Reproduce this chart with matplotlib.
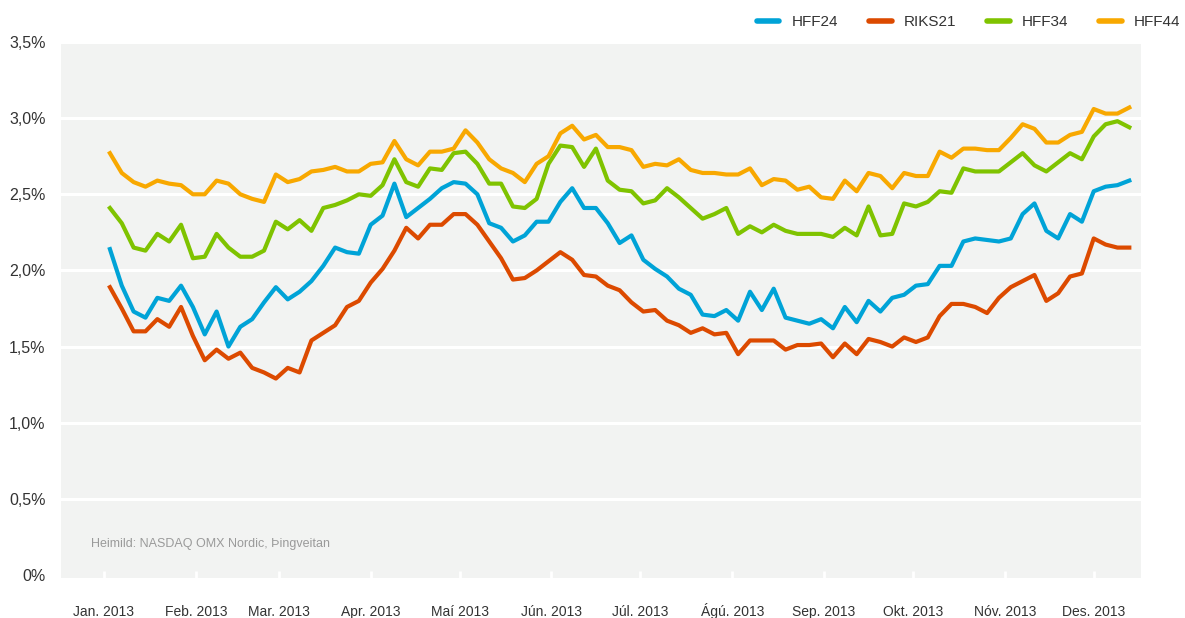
import matplotlib
matplotlib.use("Agg")
import matplotlib.pyplot as plt
import pandas as pd

# values, one every 4 days from 3 Jan 2013
dates = pd.date_range("2013-01-03", periods=87, freq="4D")

hff24 = [2.14, 1.90, 1.73, 1.69, 1.82, 1.80, 1.90, 1.76, 1.58, 1.73,
         1.50, 1.63, 1.68, 1.79, 1.89, 1.81, 1.86, 1.93, 2.03, 2.15,
         2.12, 2.11, 2.30, 2.36, 2.57, 2.35, 2.41, 2.47, 2.54, 2.58,
         2.57, 2.50, 2.31, 2.28, 2.19, 2.23, 2.32, 2.32, 2.45, 2.54,
         2.41, 2.41, 2.31, 2.18, 2.23, 2.07, 2.01, 1.96, 1.88, 1.84,
         1.71, 1.70, 1.74, 1.67, 1.86, 1.74, 1.88, 1.69, 1.67, 1.65,
         1.68, 1.62, 1.76, 1.66, 1.80, 1.73, 1.82, 1.84, 1.90, 1.91,
         2.03, 2.03, 2.19, 2.21, 2.20, 2.19, 2.21, 2.37, 2.44, 2.26,
         2.21, 2.37, 2.32, 2.52, 2.55, 2.56, 2.59]

riks21 = [1.89, 1.75, 1.60, 1.60, 1.68, 1.63, 1.76, 1.57, 1.41, 1.48,
          1.42, 1.46, 1.36, 1.33, 1.29, 1.36, 1.33, 1.54, 1.59, 1.64,
          1.76, 1.80, 1.92, 2.01, 2.13, 2.28, 2.21, 2.30, 2.30, 2.37,
          2.37, 2.30, 2.19, 2.08, 1.94, 1.95, 2.00, 2.06, 2.12, 2.07,
          1.97, 1.96, 1.90, 1.87, 1.79, 1.73, 1.74, 1.67, 1.64, 1.59,
          1.62, 1.58, 1.59, 1.45, 1.54, 1.54, 1.54, 1.48, 1.51, 1.51,
          1.52, 1.43, 1.52, 1.45, 1.55, 1.53, 1.50, 1.56, 1.53, 1.56,
          1.70, 1.78, 1.78, 1.76, 1.72, 1.82, 1.89, 1.93, 1.97, 1.80,
          1.85, 1.96, 1.98, 2.21, 2.17, 2.15, 2.15]

hff34 = [2.41, 2.31, 2.15, 2.13, 2.24, 2.19, 2.30, 2.08, 2.09, 2.24,
         2.15, 2.09, 2.09, 2.13, 2.32, 2.27, 2.33, 2.26, 2.41, 2.43,
         2.46, 2.50, 2.49, 2.56, 2.73, 2.58, 2.55, 2.67, 2.66, 2.77,
         2.78, 2.70, 2.57, 2.57, 2.42, 2.41, 2.47, 2.70, 2.82, 2.81,
         2.68, 2.80, 2.59, 2.53, 2.52, 2.44, 2.46, 2.54, 2.48, 2.41,
         2.34, 2.37, 2.41, 2.24, 2.29, 2.25, 2.30, 2.26, 2.24, 2.24,
         2.24, 2.22, 2.28, 2.23, 2.42, 2.23, 2.24, 2.44, 2.42, 2.45,
         2.52, 2.51, 2.67, 2.65, 2.65, 2.65, 2.71, 2.77, 2.69, 2.65,
         2.71, 2.77, 2.73, 2.88, 2.96, 2.98, 2.94]

hff44 = [2.77, 2.64, 2.58, 2.55, 2.59, 2.57, 2.56, 2.50, 2.50, 2.59,
         2.57, 2.50, 2.47, 2.45, 2.63, 2.58, 2.60, 2.65, 2.66, 2.68,
         2.65, 2.65, 2.70, 2.71, 2.85, 2.73, 2.69, 2.78, 2.78, 2.80,
         2.92, 2.84, 2.73, 2.67, 2.64, 2.58, 2.70, 2.75, 2.90, 2.95,
         2.86, 2.89, 2.81, 2.81, 2.79, 2.68, 2.70, 2.69, 2.73, 2.66,
         2.64, 2.64, 2.63, 2.63, 2.67, 2.56, 2.60, 2.59, 2.53, 2.55,
         2.48, 2.47, 2.59, 2.52, 2.64, 2.62, 2.54, 2.64, 2.62, 2.62,
         2.78, 2.74, 2.80, 2.80, 2.79, 2.79, 2.87, 2.96, 2.93, 2.84,
         2.84, 2.89, 2.91, 3.06, 3.03, 3.03, 3.07]

names = ["HFF24", "RIKS21", "HFF34", "HFF44"]
colors = ["#00a3d7", "#dc4a00", "#7fc300", "#f8a800"]

month_labels = ["Jan. 2013", "Feb. 2013", "Mar. 2013", "Apr. 2013", "Maí 2013",
                "Jún. 2013", "Júl. 2013", "Ágú. 2013", "Sep. 2013", "Okt. 2013",
                "Nóv. 2013", "Des. 2013"]
yticks = [0, 0.5, 1.0, 1.5, 2.0, 2.5, 3.0, 3.5]
ylabels = ["0%", "0,5%", "1,0%", "1,5%", "2,0%", "2,5%", "3,0%", "3,5%"]

plt.rcParams["font.family"] = ["Liberation Sans", "DejaVu Sans"]

fig = plt.figure(figsize=(11.85, 6.18), dpi=100)
ax = fig.add_axes([0.0515, 0.0647, 0.9115, 0.8673])
ax.set_facecolor("#f2f3f2")

# white gridlines, none at 0
for yv in yticks[1:]:
    ax.axhline(yv, color="white", lw=2.2, zorder=1)

for vals, name, c in zip([hff24, riks21, hff34, hff44], names, colors):
    ax.plot(dates, vals, color=c, lw=3.0, label=name, zorder=3)

ax.set_ylim(-0.02, 3.5)
ax.set_xlim(pd.Timestamp("2012-12-17 12:00"), pd.Timestamp("2013-12-17"))

ax.set_yticks(yticks)
ax.set_yticklabels(ylabels)

ax.set_xticks(pd.date_range("2013-01-01", periods=12, freq="MS"))
ax.set_xticklabels(month_labels)

for s in ax.spines.values():
    s.set_visible(False)

ax.tick_params(axis="y", length=0, pad=11, labelsize=11.5, labelcolor="#333333")
ax.tick_params(axis="x", direction="in", length=5, width=2, color="white",
               pad=27.5, labelsize=10, labelcolor="#333333")
for lab in ax.get_xticklabels():
    lab.set_verticalalignment("baseline")

ax.text(0.028, 0.058, "Heimild: NASDAQ OMX Nordic, Þingveitan", transform=ax.transAxes,
        fontsize=9, color="#9a9a9a")

leg = fig.legend(loc="upper right", bbox_to_anchor=(1.008, 0.998), ncol=4, frameon=False,
                 fontsize=11, handlelength=1.5, handletextpad=0.8, columnspacing=2.0)
for h in leg.get_lines():
    h.set_linewidth(4)
    h.set_solid_capstyle("round")
for t in leg.get_texts():
    t.set_color("#333333")

fig.savefig("out.png", dpi=100)
